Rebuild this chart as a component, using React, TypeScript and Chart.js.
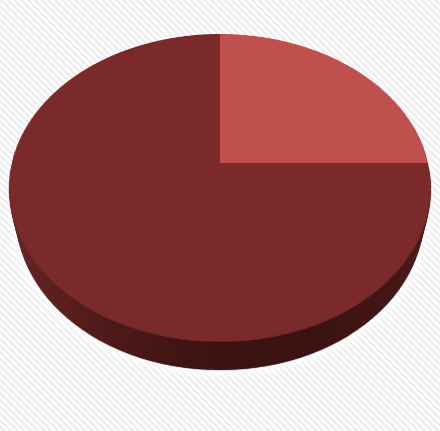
import React, { useEffect, useRef } from "react";
import { Chart, registerables } from "chart.js";

Chart.register(...registerables);

// ---- data ----
const categories = ["Part A", "Part B"];
const values = [25, 75];
const sliceColors = ["#c0504d", "#7a2a2a"];

// ---- 3D look ----
const R = 208; // pie radius in its own plane
const CX = 220; // projected pie centre
const CY = 163;
const PERSPECTIVE = 888;
const TILT = 43.9;
const DEPTH = 45;
const STEP = 0.75;
const layerCount = Math.round(DEPTH / STEP);

const sideGradient =
  "linear-gradient(to right, #6a2323 0%, #5a1c1c 15%, #4a1717 30%, #3b1111 50%, #3a1111 70%, #431414 88%, #521919 100%)";

export default function App() {
  const ref = useRef<HTMLCanvasElement>(null);

  useEffect(() => {
    const chart = new Chart(ref.current!, {
      type: "pie",
      data: {
        labels: categories,
        datasets: [
          {
            data: values,
            backgroundColor: sliceColors,
            borderWidth: 0,
            hoverOffset: 0,
            offset: 0,
          },
        ],
      },
      options: {
        responsive: false,
        animation: false,
        devicePixelRatio: 2,
        events: [],
        layout: { padding: 0 },
        plugins: {
          legend: { display: false },
          tooltip: { enabled: false },
        },
      },
    });
    return () => chart.destroy();
  }, []);

  const layers = [];
  for (let i = layerCount; i >= 1; i--) {
    const z = -i * STEP;
    layers.push(
      <div
        key={i}
        style={{
          position: "absolute",
          left: 0,
          top: 0,
          width: 2 * R,
          height: 2 * R,
          borderRadius: "50%",
          background: sideGradient,
          transform: `translateZ(${z}px)`,
          boxShadow: i === layerCount ? "0 0 10px 4px rgba(255,255,255,0.95)" : undefined,
        }}
      />
    );
  }

  return (
    <div
      style={{
        position: "absolute",
        left: 0,
        top: 0,
        width: 440,
        height: 431,
        overflow: "hidden",
        background:
          "repeating-linear-gradient(45deg, #ffffff 0px, #fbfbfb 1.5px, #ececec 2.5px, #ececec 3.5px, #fbfbfb 4.5px, #ffffff 4.8px)",
      }}
    >
      <div
        style={{
          position: "absolute",
          left: CX - R,
          top: CY - R,
          width: 2 * R,
          height: 2 * R,
          transformStyle: "preserve-3d",
          transform: `perspective(${PERSPECTIVE}px) rotateX(${TILT}deg)`,
        }}
      >
        {layers}
        <canvas
          ref={ref}
          width={2 * R}
          height={2 * R}
          style={{
            position: "absolute",
            left: 0,
            top: 0,
            width: 2 * R,
            height: 2 * R,
            transform: "translateZ(0.1px)",
          }}
        />
      </div>
    </div>
  );
}
